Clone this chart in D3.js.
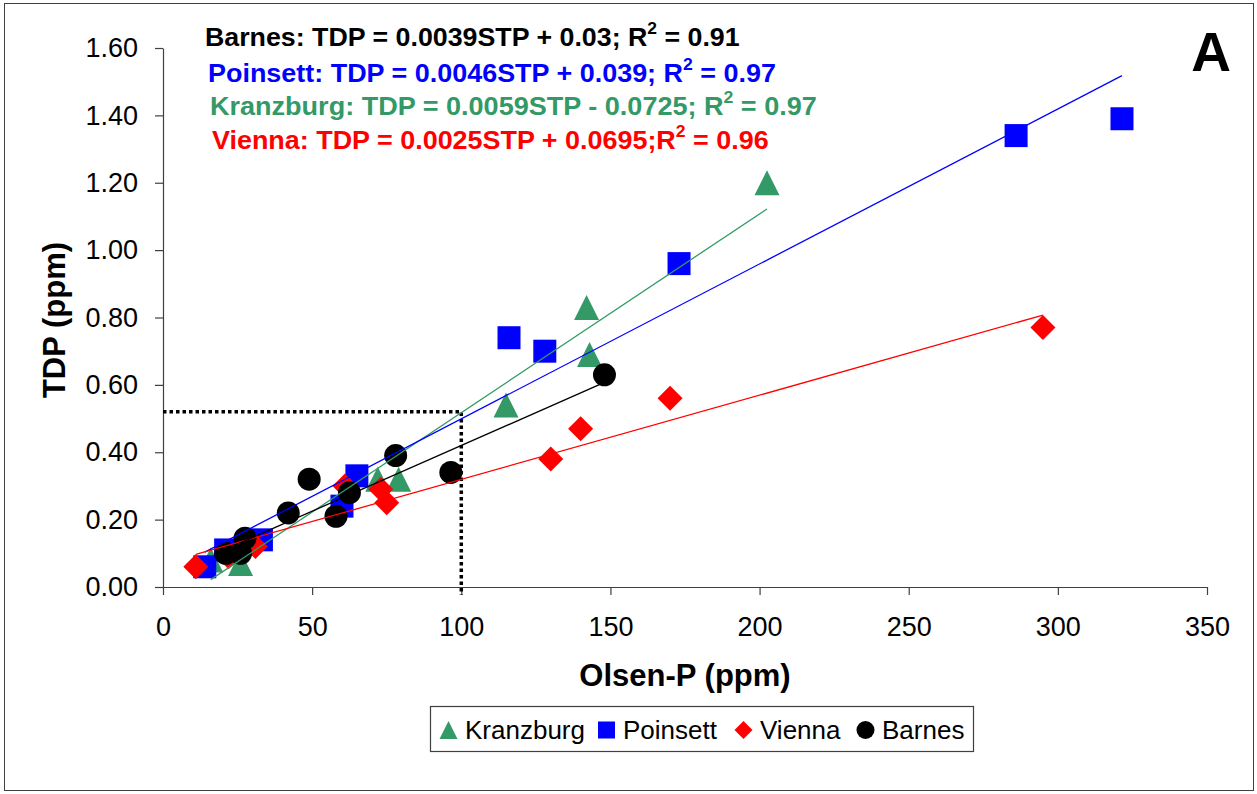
<!DOCTYPE html>
<html>
<head>
<meta charset="utf-8">
<script src="https://cdn.jsdelivr.net/npm/d3@7"></script>
<style>
  html, body { margin: 0; padding: 0; background: #fff; }
  svg { display: block; font-family: Arial, "Liberation Sans", sans-serif; }
</style>
</head>
<body>
<svg id="chart" width="1257" height="794"></svg>
<script>
// ---------------- DATA ----------------
const seriesNames = ["Kranzburg", "Poinsett", "Vienna", "Barnes"];
const seriesColors = ["#339966", "#0000FF", "#FF0000", "#000000"];

const kranzburgX = [16, 26, 72, 79, 115, 142, 143, 202.5];
const kranzburgY = [0.08, 0.07, 0.32, 0.32, 0.54, 0.83, 0.69, 1.20];

const poinsettX = [14, 21, 33, 60, 65, 116, 128, 173, 286, 321.5];
const poinsettY = [0.06, 0.11, 0.14, 0.24, 0.33, 0.74, 0.70, 0.96, 1.34, 1.39];

const viennaX = [11, 22, 31, 61, 73, 75, 130, 140, 170, 295];
const viennaY = [0.06, 0.09, 0.12, 0.30, 0.29, 0.25, 0.38, 0.47, 0.56, 0.77];

const barnesX = [21, 26, 27.5, 42, 49, 58, 62.5, 78, 96.5, 148];
const barnesY = [0.10, 0.10, 0.145, 0.22, 0.32, 0.21, 0.28, 0.39, 0.34, 0.63];

// regression fits (same order as seriesNames)
const slopes = [0.0059, 0.0046, 0.0025, 0.0039];
const intercepts = [-0.0725, 0.039, 0.0695, 0.03];

// equation labels (display order: Barnes, Poinsett, Kranzburg, Vienna)
const eqSeries = ["Barnes", "Poinsett", "Kranzburg", "Vienna"];
const eqPre = [
  "Barnes: TDP = 0.0039STP + 0.03; R",
  "Poinsett: TDP = 0.0046STP + 0.039; R",
  "Kranzburg: TDP = 0.0059STP - 0.0725; R",
  "Vienna: TDP = 0.0025STP + 0.0695;R"
];
const eqPost = [" = 0.91", " = 0.97", " = 0.97", " = 0.96"];

// reference guide (dotted): Olsen-P = 100 -> TDP = 0.52
const guideX = [0, 100, 100];
const guideY = [0.52, 0.52, -0.024];

const xTicks = [0, 50, 100, 150, 200, 250, 300, 350];
const yTicks = [0, 0.2, 0.4, 0.6, 0.8, 1.0, 1.2, 1.4, 1.6];

const xTitle = "Olsen-P (ppm)";
const yTitle = "TDP (ppm)";
const panelLabel = "A";

// ---------------- LAYOUT ----------------
const svg = d3.select("#chart");
const x = d3.scaleLinear().domain([0, 350]).range([163, 1207]);
const y = d3.scaleLinear().domain([0, 1.6]).range([587, 48]);

const seriesX = [kranzburgX, poinsettX, viennaX, barnesX];
const seriesY = [kranzburgY, poinsettY, viennaY, barnesY];

// outer frame
svg.append("rect").attr("x", 4.5).attr("y", 3.5).attr("width", 1249).attr("height", 787)
  .attr("fill", "none").attr("stroke", "#404040").attr("stroke-width", 1);

// axes
const xAxis = d3.axisBottom(x).tickValues(xTicks).tickSize(8).tickSizeOuter(0)
  .tickPadding(22).tickFormat(d3.format("d"));
const gx = svg.append("g").attr("transform", "translate(0,587)").call(xAxis);
gx.selectAll("text").attr("font-size", 27).attr("fill", "#000").attr("font-family", "Arial, 'Liberation Sans', sans-serif");

const yAxis = d3.axisLeft(y).tickValues(yTicks).tickSize(8).tickSizeOuter(0)
  .tickPadding(17).tickFormat(d3.format(".2f"));
const gy = svg.append("g").attr("transform", "translate(163,0)").call(yAxis);
gy.selectAll("text").attr("font-size", 27).attr("fill", "#000").attr("font-family", "Arial, 'Liberation Sans', sans-serif");

[gx, gy].forEach(g => {
  g.select(".domain").attr("stroke", "#404040").attr("stroke-width", 1.2);
  g.selectAll(".tick line").attr("stroke", "#404040").attr("stroke-width", 1.2);
});

// axis titles
svg.append("text").attr("x", x(175)).attr("y", 686).attr("text-anchor", "middle")
  .attr("font-size", 31).attr("font-weight", "bold").text(xTitle);
svg.append("text").attr("transform", "translate(65,320) rotate(-90)").attr("text-anchor", "middle")
  .attr("font-size", 31).attr("font-weight", "bold").text(yTitle);

// dotted guide
svg.append("path")
  .attr("d", d3.line().x((d, i) => x(guideX[i])).y((d, i) => y(guideY[i]))(guideX))
  .attr("fill", "none").attr("stroke", "#000").attr("stroke-width", 3.5)
  .attr("stroke-dasharray", "3.5,3");

// marker shapes
function markerPath(name, s) {
  const h = s / 2;
  if (name === "Kranzburg") return `M0,${-h}L${h},${h}L${-h},${h}Z`;
  if (name === "Poinsett") return `M${-h},${-h}H${h}V${h}H${-h}Z`;
  if (name === "Vienna") return `M0,${-h}L${h},0L0,${h}L${-h},0Z`;
  return d3.arc()({innerRadius: 0, outerRadius: h, startAngle: 0, endAngle: 2 * Math.PI});
}
const markerSize = {Kranzburg: 25, Poinsett: 23, Vienna: 25, Barnes: 23};

// points (series order: Kranzburg bottom ... Barnes top)
seriesNames.forEach((name, si) => {
  const pts = seriesX[si].map((v, i) => ({x: v, y: seriesY[si][i]}));
  svg.append("g").selectAll("path").data(pts).join("path")
    .attr("transform", d => `translate(${x(d.x)},${y(d.y)})`)
    .attr("d", markerPath(name, markerSize[name]))
    .attr("fill", seriesColors[si]);
});

// trend lines
seriesNames.forEach((name, si) => {
  const ext = d3.extent(seriesX[si]);
  svg.append("line")
    .attr("x1", x(ext[0])).attr("y1", y(slopes[si] * ext[0] + intercepts[si]))
    .attr("x2", x(ext[1])).attr("y2", y(slopes[si] * ext[1] + intercepts[si]))
    .attr("stroke", seriesColors[si]).attr("stroke-width", 1.3);
});

// equations
const eqLayout = [
  {left: 205, right: 740, base: 46},
  {left: 208, right: 776, base: 82},
  {left: 210, right: 817, base: 115},
  {left: 212, right: 769, base: 149}
];
eqSeries.forEach((name, i) => {
  const col = seriesColors[seriesNames.indexOf(name)];
  const L = eqLayout[i];
  const t = svg.append("text").attr("x", 0).attr("y", 0)
    .attr("font-size", 26).attr("font-weight", "bold").attr("fill", col);
  t.append("tspan").text(eqPre[i]);
  t.append("tspan").attr("font-size", 17).attr("dy", -12).text("2");
  t.append("tspan").attr("dy", 12).text(eqPost[i]);
  const w = t.node().getBBox().width;
  const sx = (L.right - L.left) / w;
  t.attr("transform", `translate(${L.left},${L.base}) scale(${sx},1)`);
});

// panel label
svg.append("text").attr("x", 1211).attr("y", 71).attr("text-anchor", "middle")
  .attr("font-size", 55).attr("font-weight", "bold").text(panelLabel);

// legend
const lg = svg.append("g");
lg.append("rect").attr("x", 430.5).attr("y", 706.5).attr("width", 543).attr("height", 45)
  .attr("fill", "#fff").attr("stroke", "#404040").attr("stroke-width", 1.2);
const legMarkerX = [448.5, 606.5, 743.5, 865.5];
const legTextX = [465, 623, 760, 882];
const legSize = {Kranzburg: 18, Poinsett: 17, Vienna: 18, Barnes: 18};
seriesNames.forEach((name, i) => {
  lg.append("path").attr("transform", `translate(${legMarkerX[i]},730)`)
    .attr("d", markerPath(name, legSize[name])).attr("fill", seriesColors[i]);
  lg.append("text").attr("x", legTextX[i]).attr("y", 738.5)
    .attr("font-size", 26).attr("fill", "#000").text(name);
});
</script>
</body>
</html>
